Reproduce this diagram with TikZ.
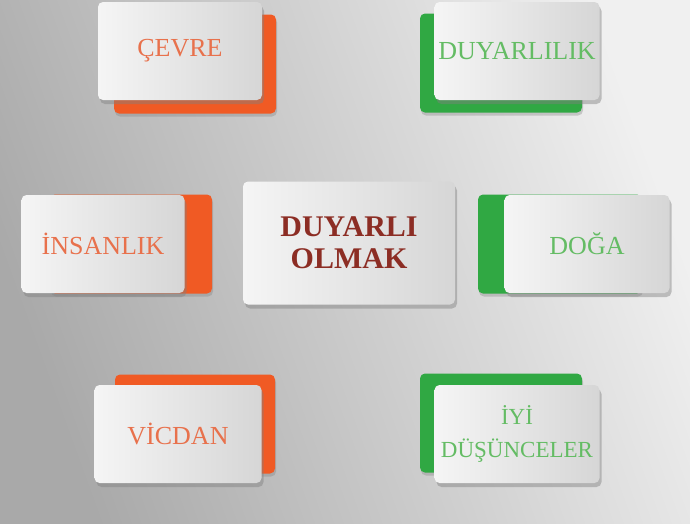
\documentclass[tikz,border=0pt]{standalone}
\usepackage{fontspec}
\setmainfont{Liberation Serif}
\usepackage{tikz}
\usetikzlibrary{shadings,shadows}

\definecolor{bgdark}{HTML}{A9A9A9}
\definecolor{bglight}{HTML}{F0F0F0}
\definecolor{cardlight}{HTML}{F5F5F5}
\definecolor{carddark}{HTML}{D6D6D6}
\definecolor{orangeback}{HTML}{F05A24}
\definecolor{greenback}{HTML}{30A843}
\definecolor{orangetext}{HTML}{E8714C}
\definecolor{greentext}{HTML}{64BC64}
\definecolor{maintext}{HTML}{8C2D24}

\begin{document}
\begin{tikzpicture}[x=1pt, y=-1pt,
    card/.style={rounded corners=5pt, left color=cardlight, right color=carddark,
        minimum width=164pt, minimum height=98pt, inner sep=0pt, align=center,
        font=\fontsize{26}{30}\selectfont,
        drop shadow={opacity=0.45, shadow xshift=2pt, shadow yshift=-4pt}},
    backing/.style={rounded corners=5pt, minimum width=162pt, minimum height=99pt,
        drop shadow={opacity=0.35, shadow xshift=1pt, shadow yshift=-3pt}},
    orangecard/.style={backing, fill=orangeback},
    greencard/.style={backing, fill=greenback}]%{{{

    \useasboundingbox (0,0) rectangle (690,523);
    \shade [left color=bgdark, right color=bglight, shading angle=110] (0,0) rectangle (690,523);

    % top row
    \node (cevreback) [orangecard] at (195,64) {};
    \node (cevre) [card, text=orangetext] at (180,51) {ÇEVRE};

    \node (duyarlilikback) [greencard] at (501,63) {};
    \node (duyarlilik) [card, text=greentext, minimum width=165pt] at (517,51) {DUYARLILIK};

    % middle row
    \node (insanlikback) [orangecard] at (131,244) {};
    \node (insanlik) [card, text=orangetext, minimum width=163pt] at (103,244) {İNSANLIK};

    \node (duyarliolmak) [card, text=maintext, minimum width=212pt, minimum height=123pt,
        text depth=-4pt, font=\bfseries\fontsize{30}{32}\selectfont] at (349,243) {DUYARLI\\OLMAK};

    \node (dogaback) [greencard, minimum width=164pt] at (560,244) {};
    \node (doga) [card, text=greentext, minimum width=165pt] at (587,244) {DOĞA};

    % bottom row
    \node (vicdanback) [orangecard, minimum width=160pt] at (195,424) {};
    \node (vicdan) [card, text=orangetext, minimum width=167pt] at (178,434) {VİCDAN};

    \node (iyiback) [greencard] at (501,423) {};
    \node (iyi) [card, text=greentext, minimum width=165pt,
        font=\fontsize{23}{33}\selectfont] at (517,434) {İYİ\\DÜŞÜNCELER};

\end{tikzpicture}
\end{document}
